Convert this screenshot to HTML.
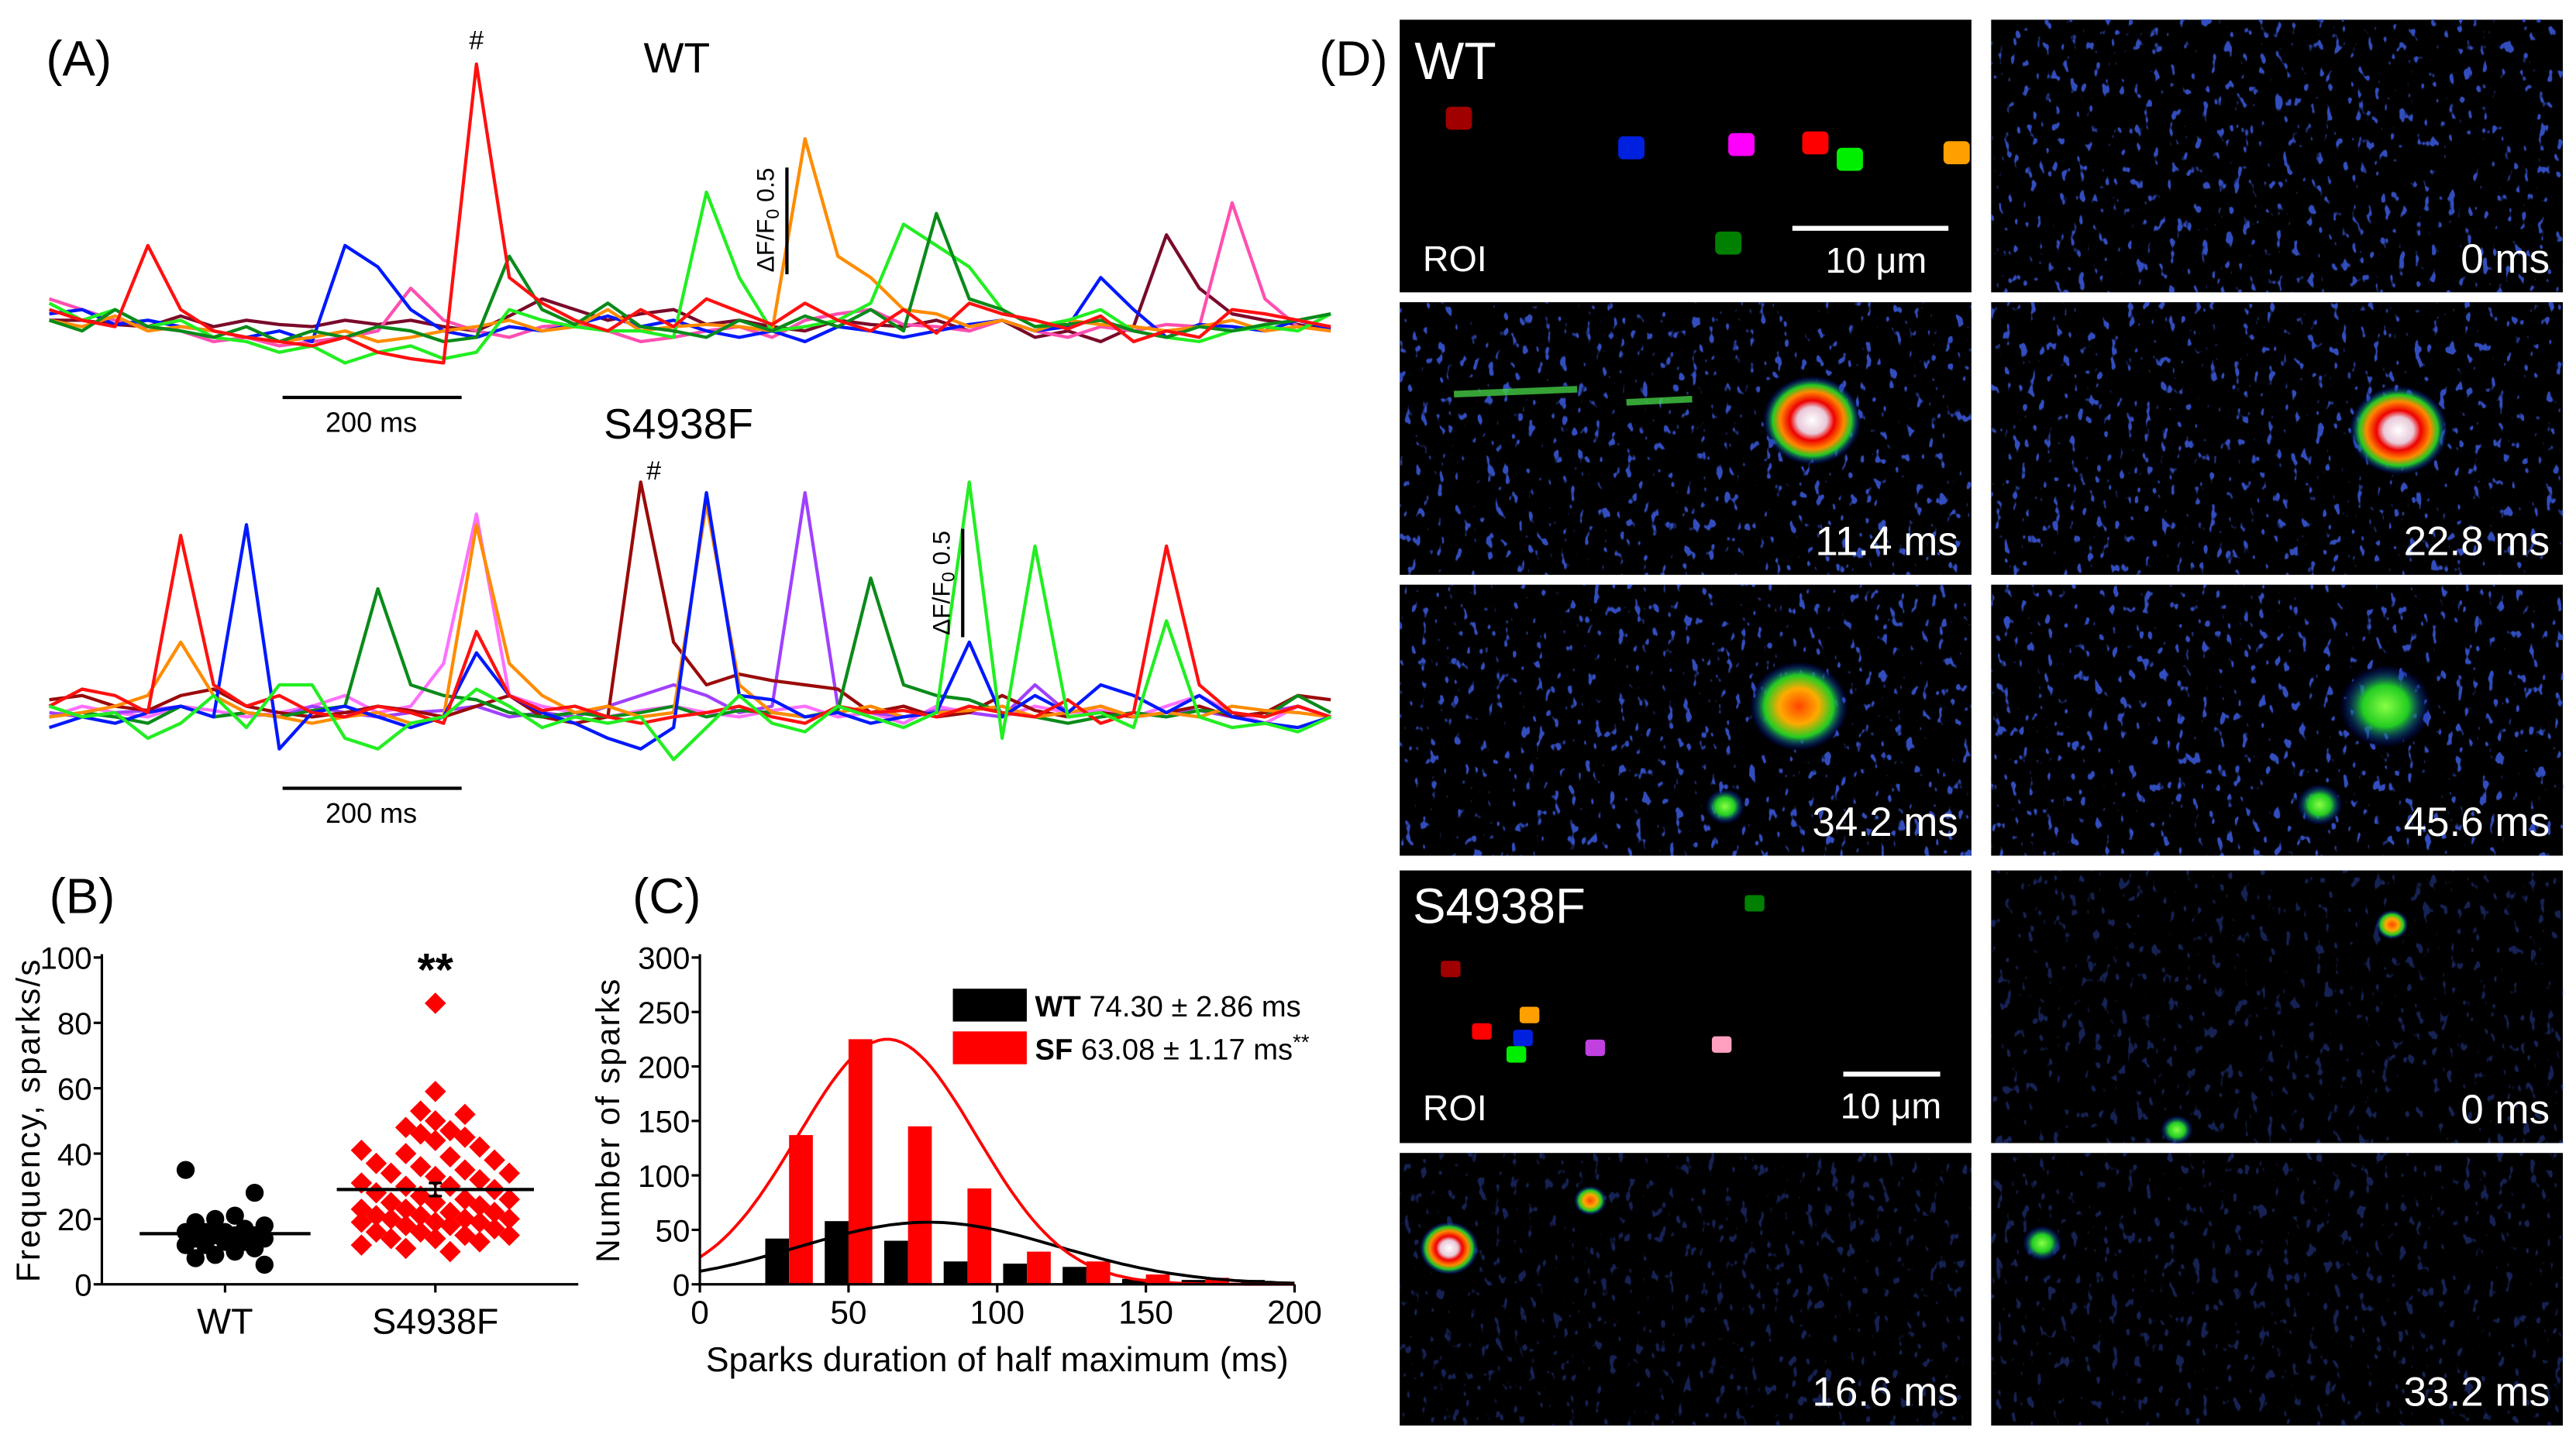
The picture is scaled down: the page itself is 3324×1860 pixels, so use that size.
<!DOCTYPE html>
<html><head><meta charset="utf-8">
<style>
html,body{margin:0;padding:0;background:#fff;}
svg{display:block;}
text{font-family:"Liberation Sans",sans-serif;}
.nar{font-family:"Liberation Sans Narrow","Liberation Sans",sans-serif;}
</style></head>
<body>
<svg id="fig" width="3324" height="1860" viewBox="0 0 1568 877.4" preserveAspectRatio="none" xmlns="http://www.w3.org/2000/svg">
<defs>
<filter id="speck" x="0" y="0" width="100%" height="100%">
<feTurbulence type="fractalNoise" baseFrequency="0.2 0.12" numOctaves="2" seed="3"/>
<feColorMatrix type="matrix" values="0 0 0 0 0.05  0 0 0 0 0.12  0 0 0 0 0.85  14 0 0 0 -9.1"/>
</filter>
<radialGradient id="hot1"><stop offset="0" stop-color="#fff"/><stop offset="0.3" stop-color="#e8c8d8"/><stop offset="0.45" stop-color="#e00"/><stop offset="0.65" stop-color="#f80"/><stop offset="0.8" stop-color="#2c2"/><stop offset="1" stop-color="#00f" stop-opacity="0"/></radialGradient>
<radialGradient id="hot2"><stop offset="0" stop-color="#f40"/><stop offset="0.4" stop-color="#fa0"/><stop offset="0.7" stop-color="#2c2"/><stop offset="1" stop-color="#00f" stop-opacity="0"/></radialGradient>
<radialGradient id="hot3"><stop offset="0" stop-color="#8f4"/><stop offset="0.5" stop-color="#2c2"/><stop offset="1" stop-color="#00f" stop-opacity="0"/></radialGradient>
</defs>
<g id="panelA"></g>
<g id="panelB"></g>
<g id="panelC"></g>
<g id="panelD"></g>
</svg>
<script>
// ---------- Panel A data (ΔF/F0 in hundredths, one sample per 20 px) ----------
const wtRed=[5,0,-3,35,5,-5,-8,-10,-12,-8,-15,-18,-20,120,20,8,0,-5,5,-3,10,4,-2,8,0,-5,5,-6,8,3,0,-4,2,-10,-5,-8,5,3,0,-3];
const wtBlue=[3,5,-2,0,-3,-5,-8,-5,-10,35,25,5,-5,-8,-3,-5,-2,2,-3,0,-5,-8,-5,-10,-3,-5,-8,-5,-2,0,-5,-3,20,5,-8,-2,-3,-5,0,-4];
const wtDkGreen=[0,-5,5,-3,-5,-8,-3,-10,-5,-8,-3,-5,-10,-8,30,5,-2,8,-3,-5,-8,0,-5,2,-3,5,-5,50,10,5,-3,-2,0,-5,-8,-3,-5,-2,0,3];
const wtGreen=[8,0,5,-3,0,-8,-10,-15,-12,-20,-15,-12,-18,-15,5,0,-3,-5,-5,-8,60,20,-5,-3,0,8,45,35,25,5,-3,0,5,-5,-8,-10,-5,-3,-5,3];
const wtOrange=[0,-3,2,-5,-3,-5,-8,-10,-8,-5,-10,-8,-5,-3,0,-5,-3,5,-5,-3,-2,-3,-5,85,30,20,5,3,-3,0,-5,0,-2,-3,-5,-3,0,-5,-3,-5];
const wtMaroon=[0,0,-2,-3,2,-3,0,-2,-3,0,-2,0,-3,-5,2,10,5,0,3,5,-2,0,-3,-5,0,-2,-3,0,-5,0,-8,-5,-10,-3,40,15,3,0,-2,-5];
const wtPink=[10,5,0,-3,-5,-10,-8,-12,-10,-8,-5,15,0,-5,-8,-3,-2,-5,-10,-8,-5,-3,-8,0,3,5,-2,-3,-5,0,-5,-8,-3,-5,-2,-3,55,10,-3,-5];
const sfRed=[0,8,5,-3,80,10,0,5,-3,-5,0,-3,-8,35,5,-2,0,-5,-8,-5,-3,0,-5,-8,0,-3,-2,-5,0,-3,-5,3,-8,-3,75,10,-3,-5,0,-5];
const sfBlue=[-10,-5,-8,-3,0,-5,85,-20,-3,0,-5,-10,-5,25,5,-3,-8,-15,-20,-10,100,5,3,-5,-3,-8,-5,-3,30,-5,5,-3,10,5,-3,5,-5,-8,-10,-5];
const sfDkGreen=[-5,-3,-5,-8,0,-5,-3,-5,-2,0,55,10,5,3,-3,-5,-3,-5,-3,0,-5,-2,-3,-5,-2,60,10,5,3,-3,-5,-8,-5,-3,-5,-2,-3,-5,5,-3];
const sfOrange=[-5,-3,0,5,30,5,-3,-5,-8,-5,-3,-8,-5,85,20,5,-3,0,-5,-3,95,10,-3,-5,-3,0,-5,-3,-2,0,-5,-3,0,-5,-3,-5,0,-2,-3,-5];
const sfViolet=[-5,0,-3,-5,0,-2,-5,-3,0,5,-3,0,20,90,5,0,-3,-5,-2,0,-3,-5,-2,0,-5,-3,-8,0,-3,-5,0,-3,-2,-5,0,5,-3,-8,0,-5];
const sfMaroon=[3,5,0,-2,5,8,0,-3,-5,-3,0,-2,-5,0,5,-5,-8,-5,105,30,10,15,12,10,8,-3,0,-5,-3,5,-2,-5,-3,-5,-3,0,-5,-3,5,3];
const sfPurple=[-3,-5,-3,-2,0,-5,-3,-5,0,-3,-5,-3,-2,0,-5,-3,-5,0,5,10,5,-3,0,100,0,-3,-5,-2,-3,-5,10,-3,0,-5,-3,-2,-5,-3,0,-5];
const sfGreen=[0,-5,-3,-15,-8,5,-10,10,10,-15,-20,-8,-5,8,0,-10,-5,-8,-5,-25,-10,5,-8,-12,0,-5,-10,-3,105,-15,75,-5,-3,-10,40,-5,-10,-8,-12,-5];
// ---------- Panel B data ----------
const bCategories=["WT","S4938F"];
const bWT=[35,28,21,20,19,18,17,16,16,16,15,15,15,14,14,13,13,12,12,11,10,9,8,6];
const bSF=[86,59,53,52,50,48,47,46,45,44,42,41,40,39,38,37,36,35,34,34,33,32,31,30,30,29,28,27,26,26,25,25,24,23,23,22,22,21,21,20,20,20,19,19,19,18,18,17,16,16,15,15,14,14,13,12,11,10];
const bMeans=[15.5,29];
const bTicks=[0,20,40,60,80,100];
// ---------- Panel C data ----------
const cBins=[30,50,70,90,110,130,150,170,190];
const cWT=[42,58,40,21,19,16,5,4,4];
const cSF=[137,225,145,88,30,21,9,6,2];
const cFitWT=[57,77,43.6];   // amplitude, mean, sigma
const cFitSF=[225,63,30];
const cXTicks=[0,50,100,150,200];
const cYTicks=[0,50,100,150,200,250,300];

const NS="http://www.w3.org/2000/svg";
function mk(tag,attrs,parent,txt){const e=document.createElementNS(NS,tag);for(const k in attrs)e.setAttribute(k,attrs[k]);if(txt!==undefined)e.textContent=txt;parent.appendChild(e);return e;}

// ---------- Panel A ----------
const A=document.getElementById('panelA');
function tx(i){return 30+i*20;}
function drawTrace(arr,base,color,name){
  const pts=arr.map((v,i)=>tx(i).toFixed(1)+","+(base-v*1.3).toFixed(1)).join(" ");
  const p=mk('polyline',{points:pts,fill:'none',stroke:color,'stroke-width':2,'stroke-linejoin':'round'},A);
  
  
}
let t;
t=mk('text',{x:28,y:46,'font-size':30},A,"(A)");
t=mk('text',{x:412,y:44,'font-size':26,'text-anchor':'middle'},A,"WT");
t=mk('text',{x:413,y:267,'font-size':26,'text-anchor':'middle'},A,"S4938F");
const wtSet=[[wtMaroon,'#7a0a2a'],[wtPink,'#ff4fb0'],[wtBlue,'#0018ff'],[wtOrange,'#ff8c00'],[wtGreen,'#22ee22'],[wtDkGreen,'#0a8a1a'],[wtRed,'#ff1010']];
wtSet.forEach((s,k)=>drawTrace(s[0],195,s[1],'wt-trace-'+k));
const sfSet=[[sfViolet,'#ff70ff'],[sfPurple,'#a040ff'],[sfMaroon,'#9a0a0a'],[sfDkGreen,'#0a8a1a'],[sfOrange,'#ff8c00'],[sfBlue,'#0018ff'],[sfRed,'#ff1010'],[sfGreen,'#22ee22']];
sfSet.forEach((s,k)=>drawTrace(s[0],430,s[1],'s4938f-trace-'+k));
t=mk('text',{x:290,y:30,'font-size':16,'text-anchor':'middle'},A,"#");
t=mk('text',{x:398,y:292,'font-size':16,'text-anchor':'middle'},A,"#");
t=mk('line',{x1:172,y1:242,x2:281,y2:242,stroke:'#000','stroke-width':2},A);
t=mk('text',{x:226,y:263,'font-size':17,'text-anchor':'middle',class:'nar'},A,"200 ms");
t=mk('line',{x1:172,y1:480,x2:281,y2:480,stroke:'#000','stroke-width':2},A);
t=mk('text',{x:226,y:501,'font-size':17,'text-anchor':'middle',class:'nar'},A,"200 ms");
t=mk('line',{x1:479,y1:102,x2:479,y2:167,stroke:'#000','stroke-width':2},A);
t=mk('text',{transform:'translate(471,134) rotate(-90)','font-size':15,'text-anchor':'middle'},A);
t.innerHTML='ΔF/F<tspan font-size="11" dy="3">0</tspan><tspan dy="-3"> 0.5</tspan>';
t=mk('line',{x1:586,y1:322,x2:586,y2:388,stroke:'#000','stroke-width':2},A);
t=mk('text',{transform:'translate(578,355) rotate(-90)','font-size':15,'text-anchor':'middle'},A);
t.innerHTML='ΔF/F<tspan font-size="11" dy="3">0</tspan><tspan dy="-3"> 0.5</tspan>';

// ---------- Panel B ----------
const B=document.getElementById('panelB');
const bx0=62,bx1=352,by0=782,by1=583;
function byS(v){return by0-(v/100)*(by0-by1);}
const bCatX=[137,265];
t=mk('text',{x:30,y:556,'font-size':30},B,"(B)");
t=mk('line',{x1:bx0,y1:by1-2,x2:bx0,y2:by0,stroke:'#000','stroke-width':1.5},B);
t=mk('line',{x1:bx0,y1:by0,x2:bx1,y2:by0,stroke:'#000','stroke-width':1.5},B);
bTicks.forEach(v=>{
  t=mk('line',{x1:bx0-5,y1:byS(v),x2:bx0,y2:byS(v),stroke:'#000','stroke-width':1.5},B);
  t=mk('text',{x:bx0-6,y:byS(v)+7,'font-size':19,'text-anchor':'end',class:'nar'},B,String(v));
});
bCategories.forEach((c,i)=>{
  t=mk('line',{x1:bCatX[i],y1:by0,x2:bCatX[i],y2:by0+5,stroke:'#000','stroke-width':1.5},B);
  t=mk('text',{x:bCatX[i],y:812,'font-size':22,'text-anchor':'middle',class:'nar'},B,c);
});
t=mk('text',{transform:'translate(24,682) rotate(-90)','font-size':20,'text-anchor':'middle','letter-spacing':'1'},B,"Frequency, sparks/s");
bWT.forEach((v,i)=>{
  const off=((i*7)%9-4)*6;
  t=mk('circle',{cx:bCatX[0]+off,cy:byS(v),r:5.5,fill:'#000'},B);
});
bSF.forEach((v,i)=>{
  const spread=v>55?0:(v>42?2:5);
  const off=i===0?0:((i*3)%(2*spread+1)-spread)*9;
  const cx=bCatX[1]+off,cy=byS(v),s=6.5;
  t=mk('polygon',{points:`${cx},${cy-s} ${cx+s},${cy} ${cx},${cy+s} ${cx-s},${cy}`,fill:'#f00'},B);
});
bMeans.forEach((m,i)=>{
  const w=i===0?52:60;
  t=mk('line',{x1:bCatX[i]-w,y1:byS(m),x2:bCatX[i]+w,y2:byS(m),stroke:'#000','stroke-width':2},B);
});
t=mk('path',{d:`M${bCatX[1]-4},${byS(31)}H${bCatX[1]+4}M${bCatX[1]},${byS(31)}V${byS(27)}M${bCatX[1]-4},${byS(27)}H${bCatX[1]+4}`,stroke:'#000','stroke-width':1.5,fill:'none'},B);
t=mk('text',{x:265,y:600,'font-size':28,'font-weight':'bold','text-anchor':'middle'},B,"**");

// ---------- Panel C ----------
const C=document.getElementById('panelC');
const cx0=426,cx1=788,cy0=782,cy1=583;
function cxS(v){return cx0+(v/200)*(cx1-cx0);}
function cyS(v){return cy0-(v/300)*(cy0-cy1);}
t=mk('text',{x:385,y:556,'font-size':30},C,"(C)");
cBins.forEach((b,i)=>{
  t=mk('rect',{x:cxS(b-8),y:cyS(cWT[i]),width:cxS(b)-cxS(b-8),height:cy0-cyS(cWT[i]),fill:'#000'},C);
  t=mk('rect',{x:cxS(b),y:cyS(cSF[i]),width:cxS(b+8)-cxS(b),height:cy0-cyS(cSF[i]),fill:'#f00'},C);
});
function fitPath(p){let d="";for(let x=0;x<=200;x+=2){const y=p[0]*Math.exp(-Math.pow(x-p[1],2)/(2*p[2]*p[2]));d+=(x?"L":"M")+cxS(x).toFixed(1)+","+cyS(y).toFixed(1);}return d;}
t=mk('path',{d:fitPath(cFitWT),fill:'none',stroke:'#000','stroke-width':1.8},C);
t=mk('path',{d:fitPath(cFitSF),fill:'none',stroke:'#f00','stroke-width':1.8},C);
t=mk('line',{x1:cx0,y1:cy1-2,x2:cx0,y2:cy0,stroke:'#000','stroke-width':1.5},C);
t=mk('line',{x1:cx0,y1:cy0,x2:cx1,y2:cy0,stroke:'#000','stroke-width':1.5},C);
cYTicks.forEach(v=>{
  t=mk('line',{x1:cx0-5,y1:cyS(v),x2:cx0,y2:cyS(v),stroke:'#000','stroke-width':1.5},C);
  t=mk('text',{x:cx0-6,y:cyS(v)+7,'font-size':19,'text-anchor':'end',class:'nar'},C,String(v));
});
cXTicks.forEach(v=>{
  t=mk('line',{x1:cxS(v),y1:cy0,x2:cxS(v),y2:cy0+5,stroke:'#000','stroke-width':1.5},C);
  t=mk('text',{x:cxS(v),y:806,'font-size':20,'text-anchor':'middle',class:'nar'},C,String(v));
});
t=mk('text',{transform:'translate(377,682) rotate(-90)','font-size':20,'text-anchor':'middle','letter-spacing':'1'},C,"Number of sparks");
t=mk('text',{x:607,y:835,'font-size':21,'text-anchor':'middle',class:'nar'},C,"Sparks duration of half maximum (ms)");
t=mk('rect',{x:580,y:602,width:45,height:20,fill:'#000'},C);
t=mk('rect',{x:580,y:628,width:45,height:20,fill:'#f00'},C);
t=mk('text',{x:630,y:619,'font-size':18,class:'nar'},C);
t.innerHTML='<tspan font-weight="bold">WT</tspan> 74.30 ± 2.86 ms';
t=mk('text',{x:630,y:645,'font-size':18,class:'nar'},C);
t.innerHTML='<tspan font-weight="bold">SF</tspan>  63.08 ± 1.17 ms<tspan dy="-6" font-size="13">**</tspan>';

// ---------- Panel D ----------
const D=document.getElementById('panelD');
t=mk('text',{x:803,y:46,'font-size':30},D,"(D)");
const cols=[852,1212],w=348;
const rows=[[12,178],[184,350],[356,521],[530,696],[702,868]];
const tlabels=[[null,"0 ms"],["11.4 ms","22.8 ms"],["34.2 ms","45.6 ms"],[null,"0 ms"],["16.6 ms","33.2 ms"]];
rows.forEach((r,ri)=>cols.forEach((cx,ci)=>{
  const g=mk('g',{},D);
  mk('rect',{x:cx,y:r[0],width:w,height:r[1]-r[0],fill:'#000'},g);
  if(!((ri===0||ri===3)&&ci===0)) mk('rect',{x:cx,y:r[0],width:w,height:r[1]-r[0],fill:'#000',filter:'url(#speck)',opacity:ri>=3?0.35:0.8},g);
  const lb=tlabels[ri][ci];
  if(lb){const tt=mk('text',{x:cx+w-8,y:r[1]-12,'font-size':25,fill:'#fff','text-anchor':'end',class:'nar'},g,lb);}
}));
function blob(x,y,r,grad,name){const e=mk('ellipse',{cx:x,cy:y,rx:r,ry:r*0.9,fill:'url(#'+grad+')'},D);}
blob(1103,256,30,'hot1','spark-hotspot');
blob(1460,262,30,'hot1','spark-hotspot');
blob(1095,430,30,'hot2','spark-hotspot');
blob(1050,491,12,'hot3','spark-hotspot');
blob(1452,430,28,'hot3','spark-hotspot');
blob(1412,490,14,'hot3','spark-hotspot');
blob(882,760,18,'hot1','spark-hotspot');
blob(968,731,10,'hot2','spark-hotspot');
blob(1456,563,10,'hot2','spark-hotspot');
blob(1243,757,12,'hot3','spark-hotspot');
blob(1325,688,10,'hot3','spark-hotspot');
t=mk('path',{d:'M885,240 L960,237 M990,245 L1030,243',stroke:'#4c4','stroke-width':4,opacity:0.8},D);
const roiWT=[[888,72,'#a00000'],[993,90,'#0020e0'],[1060,88,'#ff00ff'],[1105,87,'#ff0000'],[1126,97,'#00ee00'],[1191,93,'#ffa000'],[1052,148,'#008000']];
roiWT.forEach(r=>{t=mk('rect',{x:r[0]-8,y:r[1]-7,width:16,height:14,rx:3,fill:r[2]},D);});
const roiSF=[[883,590,'#a00000'],[931,618,'#ffa000'],[902,628,'#ff0000'],[927,632,'#0020e0'],[923,642,'#00ee00'],[971,638,'#c040e0'],[1048,636,'#ffa0c0'],[1068,550,'#008000']];
roiSF.forEach(r=>{t=mk('rect',{x:r[0]-6,y:r[1]-5,width:12,height:10,rx:2,fill:r[2]},D);});
t=mk('text',{x:861,y:48,'font-size':32,fill:'#fff'},D,"WT");
t=mk('text',{x:866,y:165,'font-size':22,fill:'#fff',class:'nar'},D,"ROI");
t=mk('line',{x1:1091,y1:139,x2:1186,y2:139,stroke:'#fff','stroke-width':3},D);
t=mk('text',{x:1142,y:166,'font-size':22,fill:'#fff','text-anchor':'middle',class:'nar'},D,"10 μm");
t=mk('text',{x:860,y:562,'font-size':30,fill:'#fff'},D,"S4938F");
t=mk('text',{x:866,y:682,'font-size':22,fill:'#fff',class:'nar'},D,"ROI");
t=mk('line',{x1:1122,y1:654,x2:1181,y2:654,stroke:'#fff','stroke-width':3},D);
t=mk('text',{x:1151,y:681,'font-size':22,fill:'#fff','text-anchor':'middle',class:'nar'},D,"10 μm");
</script>
</body></html>
